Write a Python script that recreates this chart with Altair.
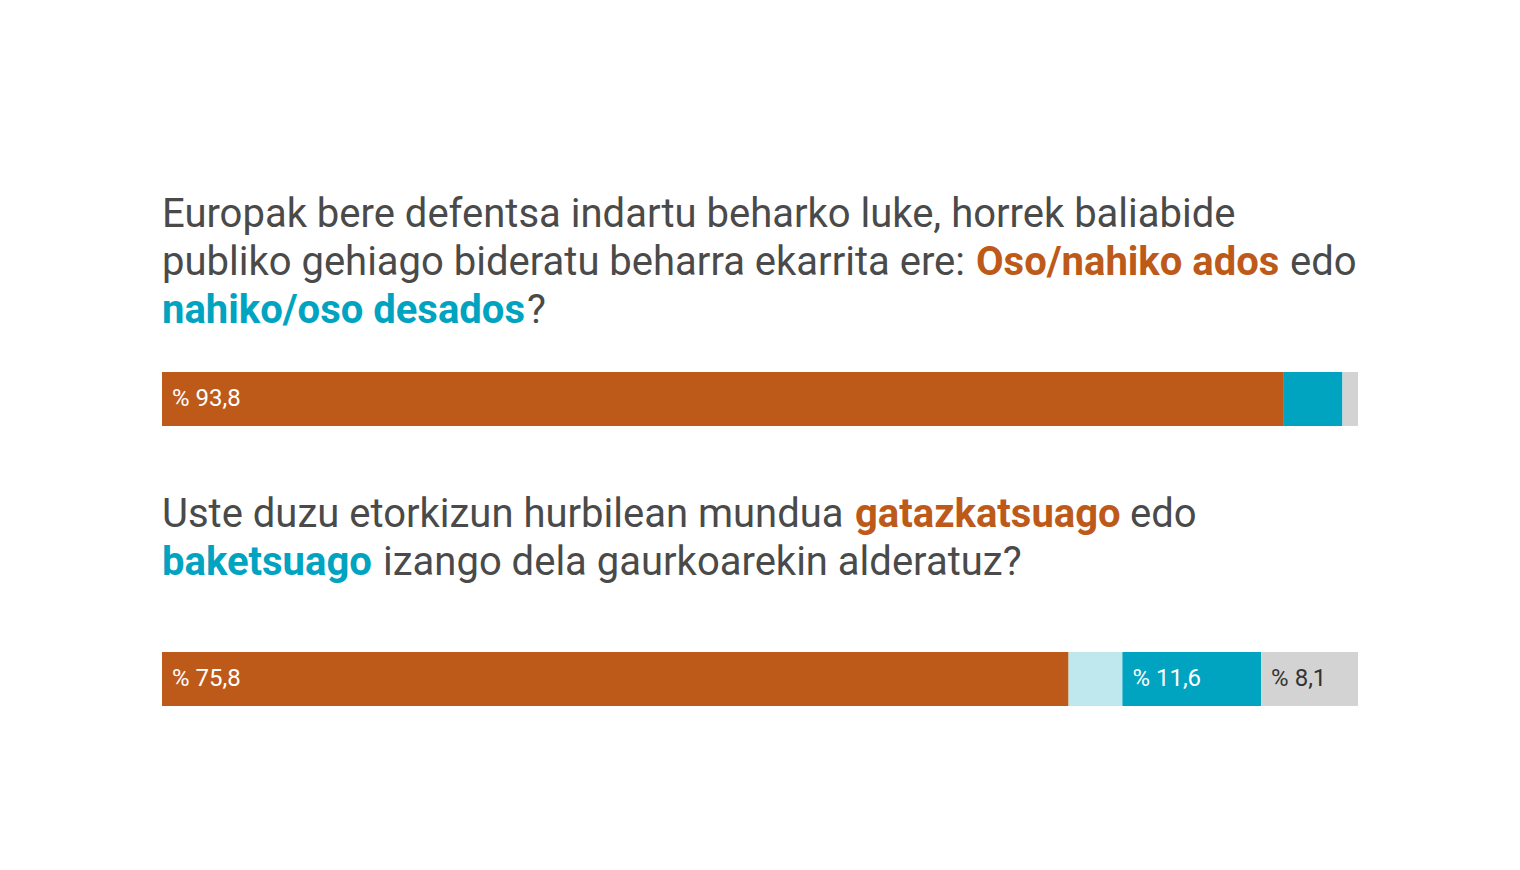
import altair as alt
import pandas as pd

# ---------------- data ----------------
questions = ["Q1", "Q2"]
q1_categories = ["Oso/nahiko ados", "Nahiko/oso desados", "ED/EE"]
q1_values = [93.8, 4.9, 1.3]
q1_colors = ["#BD5A1A", "#00A3C0", "#D3D3D3"]
q1_show_label = [True, False, False]

q2_categories = ["Gatazkatsuago", "Berdin", "Baketsuago", "ED/EE"]
q2_values = [75.8, 4.5, 11.6, 8.1]
q2_colors = ["#BD5A1A", "#BEE7EE", "#00A3C0", "#D3D3D3"]
q2_show_label = [True, False, True, True]

# title text segments (text, style) per line
q1_lines = [
    [("Europak bere defentsa indartu beharko luke, horrek baliabide", "reg")],
    [("publiko gehiago bideratu beharra ekarrita ere:", "reg"),
     ("Oso/nahiko ados", "orange"), ("edo", "reg")],
    [("nahiko/oso desados", "blue"), ("?", "reg")],
]
q2_lines = [
    [("Uste duzu etorkizun hurbilean mundua", "reg"),
     ("gatazkatsuago", "orange"), ("edo", "reg")],
    [("baketsuago", "blue"), ("izango dela gaurkoarekin alderatuz?", "reg")],
]

# ---------------- layout (pixels, chart coordinates) ----------------
W, H = 1196, 854
LEFT = 154
BAR_TOP = [364, 644]
BAR_H = 54
TEXT_BASE = [[219, 267, 315], [519, 567]]
# start x of each segment on each line
SEG_X = [[[0], [0, 814, 1128], [0, 365]], [[0, 693, 968], [0, 221]]]
TITLE_SIZE = 40
LABEL_SIZE = 24
GRAY_TXT = "#4A4A4A"
STYLE_COLOR = {"reg": GRAY_TXT, "orange": "#BD5A1A", "blue": "#00A3C0"}

rows = []
for qi, (cats, vals, cols, show) in enumerate([
        (q1_categories, q1_values, q1_colors, q1_show_label),
        (q2_categories, q2_values, q2_colors, q2_show_label)]):
    for k, (c, v, col, s) in enumerate(zip(cats, vals, cols, show)):
        rows.append({
            "question": questions[qi], "category": c, "value": v,
            "order": k, "color": col,
            "label": ("% " + f"{v:.1f}".replace(".", ",")) if s else "",
            "labelcolor": "#333333" if col == "#D3D3D3" else "#FFFFFF",
            "y0": BAR_TOP[qi], "y1": BAR_TOP[qi] + BAR_H,
            "ym": BAR_TOP[qi] + BAR_H / 2,
        })
bars_df = pd.DataFrame(rows)

trows = []
for qi, lines in enumerate([q1_lines, q2_lines]):
    for li, segs in enumerate(lines):
        for si, (txt, sty) in enumerate(segs):
            trows.append({"text": txt, "px": SEG_X[qi][li][si],
                          "py": TEXT_BASE[qi][li], "color": STYLE_COLOR[sty],
                          "bold": sty != "reg"})
text_df = pd.DataFrame(trows)

xscale = alt.Scale(domain=[0, 100], nice=False, zero=True)

base = alt.Chart(bars_df).transform_stack(
    stack="value", groupby=["question"], as_=["x0", "x1"],
    sort=[alt.SortField("order", order="ascending")],
)

bars = base.mark_bar(strokeWidth=0).encode(
    x=alt.X("x0:Q", scale=xscale, axis=None),
    x2="x1:Q",
    y=alt.Y("y0:Q", scale=None, axis=None),
    y2="y1:Q",
    color=alt.Color("color:N", scale=None, legend=None),
)

labels = base.mark_text(
    align="left", baseline="middle", dx=10, font="Roboto",
    fontSize=LABEL_SIZE,
).encode(
    x=alt.X("x0:Q", scale=xscale, axis=None),
    y=alt.Y("ym:Q", scale=None, axis=None),
    text="label:N",
    color=alt.Color("labelcolor:N", scale=None, legend=None),
)

tbase = alt.Chart(text_df)
title_reg = tbase.transform_filter("!datum.bold").mark_text(
    align="left", baseline="alphabetic", font="Roboto",
    fontSize=TITLE_SIZE, fontWeight="normal",
).encode(
    x=alt.X("px:Q", scale=None, axis=None),
    y=alt.Y("py:Q", scale=None, axis=None),
    text="text:N",
    color=alt.Color("color:N", scale=None, legend=None),
)
title_bold = tbase.transform_filter("datum.bold").mark_text(
    align="left", baseline="alphabetic", font="Roboto",
    fontSize=TITLE_SIZE, fontWeight="bold",
).encode(
    x=alt.X("px:Q", scale=None, axis=None),
    y=alt.Y("py:Q", scale=None, axis=None),
    text="text:N",
    color=alt.Color("color:N", scale=None, legend=None),
)

chart = alt.layer(bars, labels, title_reg, title_bold).properties(
    width=W, height=H,
    background="white",
    autosize=alt.AutoSizeParams(type="none"),
    padding={"left": LEFT, "top": 0, "right": 0, "bottom": 0},
).configure_view(stroke=None, strokeWidth=0)

chart.save("out.html", embed_options={"renderer": "svg", "actions": False})
